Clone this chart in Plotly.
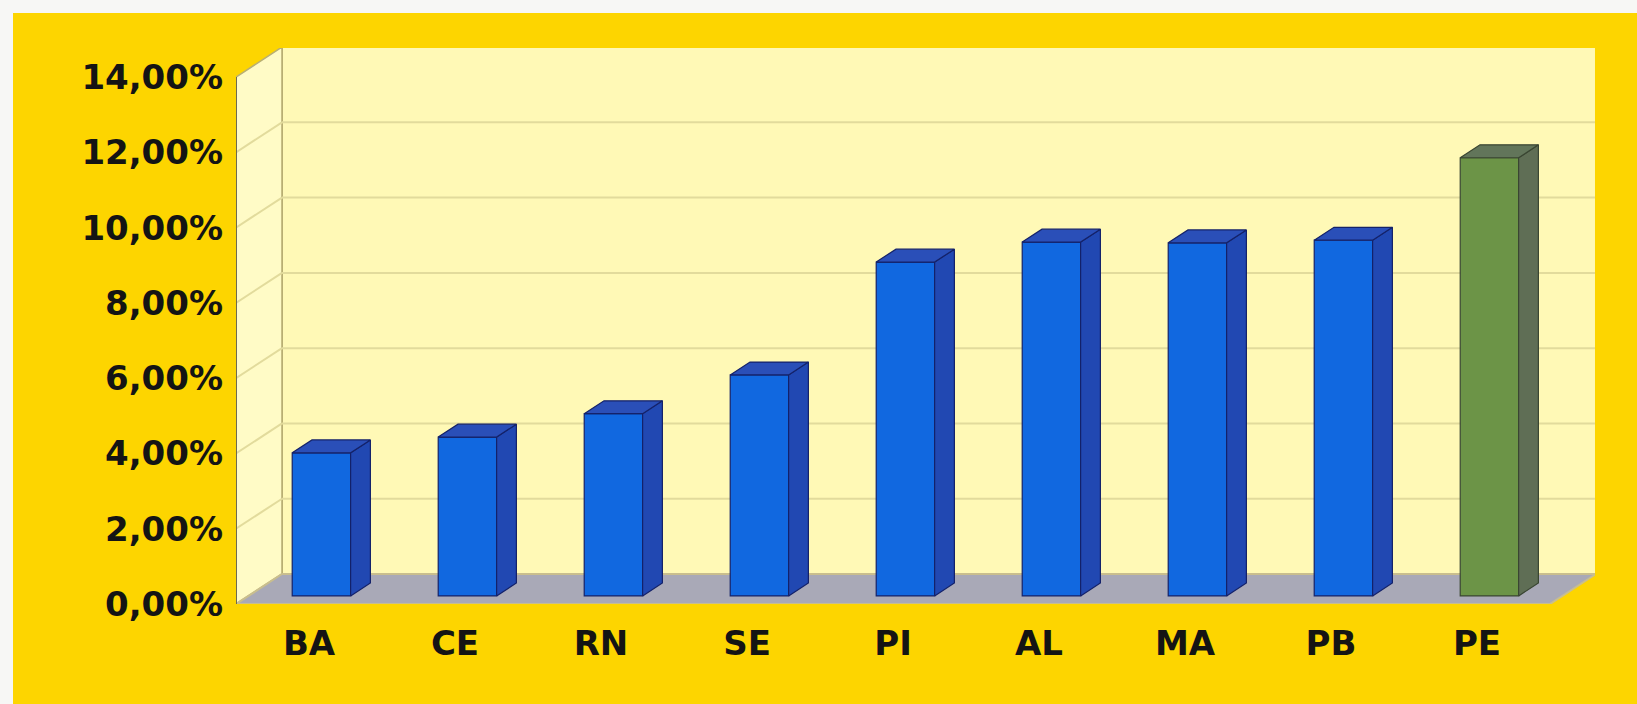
import plotly.graph_objects as go

# Participação por estado (%)
categories = ["BA", "CE", "RN", "SE", "PI", "AL", "MA", "PB", "PE"]
values = [3.80, 4.22, 4.84, 5.87, 8.87, 9.40, 9.38, 9.45, 11.64]
highlight = ["PE"]

y_ticks = [0, 2, 4, 6, 8, 10, 12, 14]
y_tick_text = ["0,00%", "2,00%", "4,00%", "6,00%", "8,00%", "10,00%", "12,00%", "14,00%"]

# --- 3D-look geometry (in axis units) ---
DX, DY = 0.315, 0.797          # depth vector of the chart box
F0, F1 = 0.27, 0.70            # front / back depth fraction of each column
BAR_W = 0.40
X_LO, X_HI = -0.5, len(categories) - 0.5
Y_TOP = max(y_ticks)

# palette
GOLD = "#FDD500"
WALL_BACK = "#FFF9B6"
WALL_SIDE = "#FFFBC6"
FLOOR = "#A9A9B7"
GRID = "#E2DB9C"
EDGE = "#B8AF73"

blue = dict(front="#1168E0", side="#2148B2", top="#2A4FB8", line="#14226A")
green = dict(front="#6C9447", side="#5F6E55", top="#62755A", line="#3A4632")

fig = go.Figure()

shapes = []
# page background
W, H = 1637, 704
L, R, T, B = 236, 42, 48, 100
pw, ph = W - L - R, H - T - B
shapes.append(dict(type="rect", xref="paper", yref="paper", layer="below",
                   x0=(13 - L) / pw, x1=(W - L) / pw + 0.02,
                   y0=-(B + 5) / ph, y1=(H - B - 13) / ph,
                   fillcolor=GOLD, line=dict(width=0)))


def poly(pts):
    return "M " + " L ".join(f"{x},{y}" for x, y in pts) + " Z"


# back wall
shapes.append(dict(type="path", xref="x", yref="y", layer="below",
                   path=poly([(X_LO + DX, DY), (X_HI + DX, DY),
                              (X_HI + DX, Y_TOP + DY), (X_LO + DX, Y_TOP + DY)]),
                   fillcolor=WALL_BACK, line=dict(color=EDGE, width=2)))
# left wall
shapes.append(dict(type="path", xref="x", yref="y", layer="below",
                   path=poly([(X_LO, 0), (X_LO, Y_TOP), (X_LO + DX, Y_TOP + DY), (X_LO + DX, DY)]),
                   fillcolor=WALL_SIDE, line=dict(color=EDGE, width=1.5)))
# floor
shapes.append(dict(type="path", xref="x", yref="y", layer="below",
                   path=poly([(X_LO, 0), (X_HI, 0), (X_HI + DX, DY), (X_LO + DX, DY)]),
                   fillcolor=FLOOR, line=dict(color="#C9BE8E", width=2)))
# gridlines on back and left walls
for v in y_ticks[1:-1]:
    shapes.append(dict(type="line", xref="x", yref="y", layer="below",
                       x0=X_LO + DX, x1=X_HI + DX, y0=v + DY, y1=v + DY,
                       line=dict(color=GRID, width=2)))
    shapes.append(dict(type="line", xref="x", yref="y", layer="below",
                       x0=X_LO, x1=X_LO + DX, y0=v, y1=v + DY,
                       line=dict(color=GRID, width=2)))
# front edge of the left wall
shapes.append(dict(type="line", xref="x", yref="y", layer="below",
                   x0=X_LO, x1=X_LO, y0=0, y1=Y_TOP,
                   line=dict(color="#6E6A50", width=2)))

xs = list(range(len(categories)))
pal = [green if c in highlight else blue for c in categories]
base = F0 * DY
dd_x, dd_y = (F1 - F0) * DX, (F1 - F0) * DY

# front faces
fig.add_trace(go.Bar(
    x=[i + F0 * DX for i in xs], y=values, base=[base] * len(values),
    width=BAR_W,
    marker=dict(color=[p["front"] for p in pal],
                line=dict(color=[p["line"] for p in pal], width=1.2)),
    hoverinfo="skip", showlegend=False))

# side and top faces
for i, v, p in zip(xs, values, pal):
    xc = i + F0 * DX
    xl, xr = xc - BAR_W / 2, xc + BAR_W / 2
    y0, y1 = base, base + v
    fig.add_trace(go.Scatter(
        x=[xr, xr + dd_x, xr + dd_x, xr, xr],
        y=[y0, y0 + dd_y, y1 + dd_y, y1, y0],
        mode="lines", fill="toself", fillcolor=p["side"],
        line=dict(color=p["line"], width=1.2),
        hoverinfo="skip", showlegend=False))
    fig.add_trace(go.Scatter(
        x=[xl, xr, xr + dd_x, xl + dd_x, xl],
        y=[y1, y1, y1 + dd_y, y1 + dd_y, y1],
        mode="lines", fill="toself", fillcolor=p["top"],
        line=dict(color=p["line"], width=1.2),
        hoverinfo="skip", showlegend=False))

fig.update_layout(
    template="none",
    width=W, height=H,
    margin=dict(l=L, r=R, t=T, b=B, pad=0),
    paper_bgcolor="#F7F7F5",
    plot_bgcolor="rgba(0,0,0,0)",
    shapes=shapes,
    showlegend=False,
    xaxis=dict(range=[X_LO, X_LO + pw / 146.0], tickvals=xs, ticktext=categories,
               showgrid=False, zeroline=False, showline=False, ticks="",
               tickfont=dict(family="DejaVu Sans", size=34, color="#141414", weight="bold"),
               ticklabelstandoff=16, automargin=False, fixedrange=True),
    yaxis=dict(range=[0, ph / 37.64], tickvals=y_ticks, ticktext=y_tick_text,
               showgrid=False, zeroline=False, showline=False, ticks="",
               tickfont=dict(family="DejaVu Sans", size=34, color="#141414", weight="bold"),
               ticklabelstandoff=12, automargin=False, fixedrange=True),
)

fig.write_html("out.html")
